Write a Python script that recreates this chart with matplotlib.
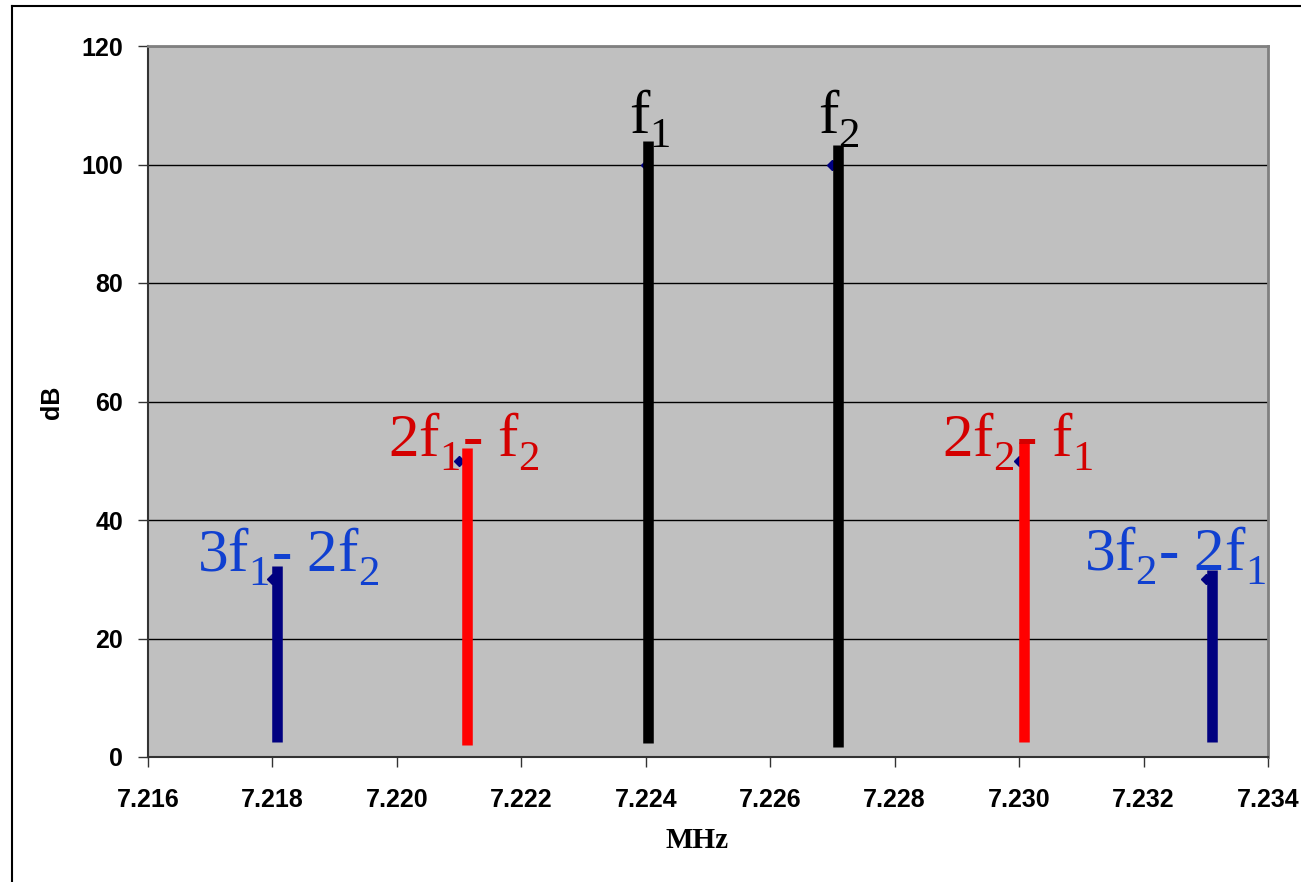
import numpy as np
import matplotlib.pyplot as plt
from matplotlib.lines import Line2D
import matplotlib._mathtext as mt

plt.rcParams['mathtext.fontset'] = 'custom'
plt.rcParams['mathtext.rm'] = 'Liberation Serif'
plt.rcParams['mathtext.it'] = 'Liberation Serif:italic'
# drop subscripts a bit lower, like the original labels
mt.FontConstantsBase.sub1 = 0.5

# data points (MHz, dB)
freqs = [7.218, 7.221, 7.224, 7.227, 7.230, 7.233]
levels = [30, 50, 100, 100, 50, 30]

# thick drawn bars next to each point
bar_x = [7.21808, 7.22112, 7.22404, 7.22709, 7.23008, 7.23310]
bar_lo = [2.5, 2.0, 2.4, 1.7, 2.5, 2.5]
bar_hi = [32.2, 52.2, 104.0, 103.3, 53.2, 31.6]
bar_col = ['#000080', '#ff0000', '#000000', '#000000', '#ff0000', '#000080']

# labels
lab_txt = [r'3f$_\mathrm{1}$- 2f$_\mathrm{2}$', r'2f$_\mathrm{1}$- f$_\mathrm{2}$',
           r'f$_\mathrm{1}$', r'f$_\mathrm{2}$',
           r'2f$_\mathrm{2}$- f$_\mathrm{1}$', r'3f$_\mathrm{2}$- 2f$_\mathrm{1}$']
lab_x = [7.21679, 7.21986, 7.22373, 7.22677, 7.22876, 7.23104]
lab_y = [31.4, 50.8, 105.3, 105.3, 50.8, 31.6]
lab_col = ['#1040d0', '#d40000', '#000000', '#000000', '#d40000', '#1040d0']

xticks = [7.216, 7.218, 7.220, 7.222, 7.224, 7.226, 7.228, 7.230, 7.232, 7.234]
yticks = [0, 20, 40, 60, 80, 100, 120]

fig = plt.figure(figsize=(13.01, 8.82), dpi=100)
ax = fig.add_axes([148/1301, 1-757/882, 1120/1301, 711/882])
ax.set_facecolor('#c0c0c0')

ax.plot(freqs, levels, 'D', color='#000080', markersize=5, zorder=3)
ax.vlines(bar_x, bar_lo, bar_hi, colors=bar_col, linewidth=7.6, capstyle='butt', zorder=4)

for t, x, y, c in zip(lab_txt, lab_x, lab_y, lab_col):
    ax.text(x, y, t, color=c, fontsize=44, family='Liberation Serif',
            ha='left', va='baseline', zorder=5)

ax.set_xlim(7.216, 7.234)
ax.set_ylim(0, 120)
ax.set_xticks(xticks)
ax.set_xticklabels(['%.3f' % v for v in xticks])
ax.set_yticks(yticks)
ax.grid(axis='y', color='black', linewidth=1)
ax.set_axisbelow(True)

for lab in ax.get_xticklabels() + ax.get_yticklabels():
    lab.set_family('Liberation Sans')
    lab.set_fontweight('bold')
    lab.set_fontsize(18)
ax.tick_params(axis='x', direction='out', length=7, width=1, pad=15, colors='#333333')
ax.tick_params(axis='y', direction='out', length=7, width=1, pad=11, colors='#333333')
for lab in ax.get_xticklabels() + ax.get_yticklabels():
    lab.set_color('black')

ax.spines['left'].set_color('#333333')
ax.spines['bottom'].set_color('#333333')
ax.spines['left'].set_linewidth(1.5)
ax.spines['bottom'].set_linewidth(1.5)
ax.spines['top'].set_color('#808080')
ax.spines['right'].set_color('#808080')
ax.spines['top'].set_linewidth(2)
ax.spines['right'].set_linewidth(2)

fig.text(697/1301, 1-840/882, 'MHz', family='Liberation Serif', fontweight='bold',
         fontsize=21, ha='center', va='center')
fig.text(52/1301, 1-402/882, 'dB', family='Liberation Sans', fontweight='bold',
         fontsize=18, rotation=90, ha='center', va='center')

# outer frame (left and top only visible)
fig.add_artist(Line2D([12/1301, 12/1301], [0, 1-6/882], color='black', linewidth=1.5))
fig.add_artist(Line2D([12/1301, 1], [1-6/882, 1-6/882], color='black', linewidth=1.5))

fig.savefig('out.png', dpi=100)
